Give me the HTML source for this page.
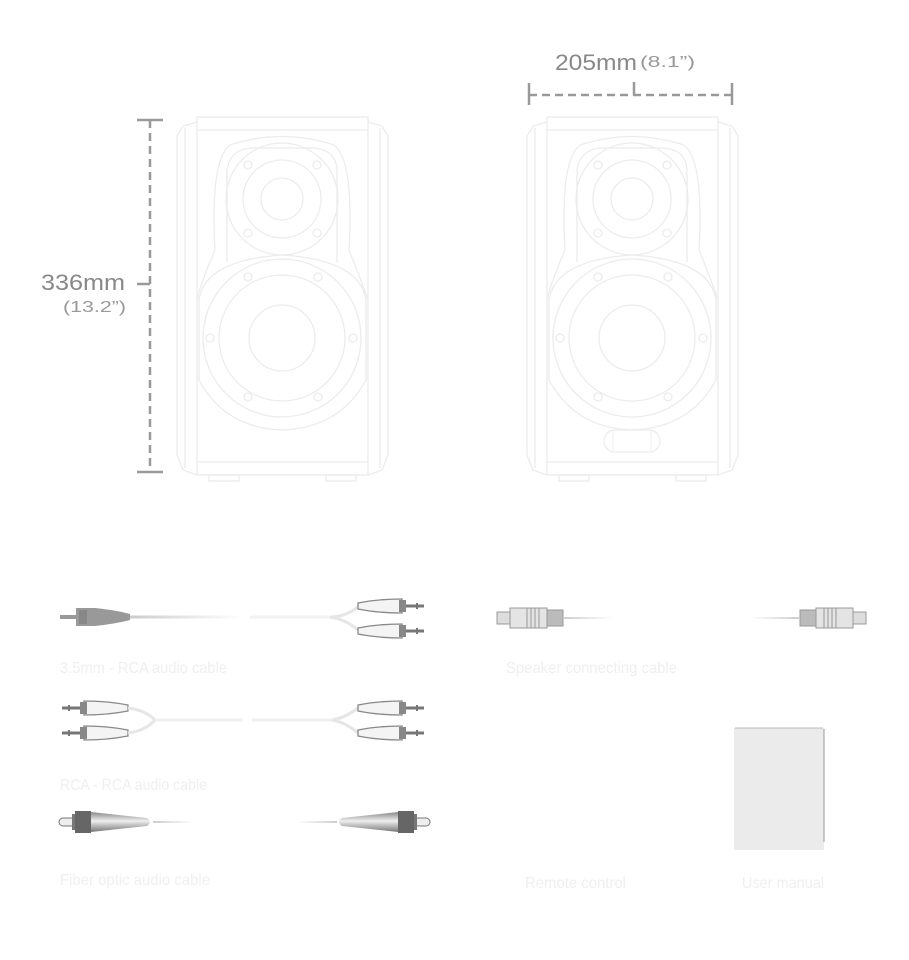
<!DOCTYPE html>
<html><head><meta charset="utf-8"><style>
html,body{margin:0;padding:0;background:#fff;width:909px;height:960px;overflow:hidden}
svg{display:block}
</style></head><body>
<svg width="909" height="960" viewBox="0 0 909 960" xmlns="http://www.w3.org/2000/svg" font-family="Liberation Sans, sans-serif">
<defs>
<g id="spk" fill="none" stroke="#ececec" stroke-width="1.3">
  <rect x="197" y="117" width="171" height="358"/>
  <line x1="197" y1="130" x2="368" y2="130"/>
  <line x1="197" y1="462" x2="368" y2="462"/>
  <path d="M197 122 L183 126 L177 136 L177 455 L183 470 L197 475"/>
  <path d="M368 122 L382 126 L388 136 L388 455 L382 470 L368 475"/>
  <path d="M185 128 L185 468 M380 128 L380 468"/>
  <path d="M215 250 Q210 160 230 145 Q282 128 334 145 Q354 160 349 250 Q365 290 368 300"/>
  <path d="M215 250 Q200 285 197 300"/>
  <path d="M227 262 L227 170 Q230 150 250 148 L314 148 Q336 150 337 170 L337 262"/>
  <circle cx="282" cy="199" r="56"/><circle cx="282" cy="199" r="39"/><circle cx="282" cy="199" r="21"/>
  <circle cx="248" cy="165" r="4"/><circle cx="317" cy="165" r="4"/><circle cx="248" cy="233" r="4"/><circle cx="317" cy="233" r="4"/>
  <path d="M199 300 Q205 260 282 255 Q360 260 366 300 L366 380 Q340 428 282 430 Q225 428 199 380 Z"/>
  <circle cx="282" cy="338" r="79"/><circle cx="282" cy="338" r="63"/><circle cx="282" cy="338" r="33"/>
  <circle cx="248" cy="277" r="4"/><circle cx="318" cy="277" r="4"/><circle cx="210" cy="338" r="4"/><circle cx="353" cy="338" r="4"/><circle cx="248" cy="397" r="4"/><circle cx="318" cy="397" r="4"/>
  <rect x="209" y="475" width="30" height="6"/><rect x="326" y="475" width="30" height="6"/>
</g>
<g id="rca">
  <path d="M0 -3 Q20 -7 44 -7 L44 7 Q20 7 0 3 Z" fill="#f4f4f4" stroke="#888" stroke-width="1.3"/>
  <rect x="41" y="-6" width="7" height="12" fill="#888"/>
  <rect x="48" y="-1.5" width="18" height="3" fill="#777"/>
  <rect x="58" y="-3" width="2" height="6" fill="#777"/>
</g>
<g id="spc">
  <rect x="0" y="-6" width="13" height="12" fill="#ddd" stroke="#999"/>
  <rect x="13" y="-10" width="37" height="20" fill="#e4e4e4" stroke="#999"/>
  <path d="M30 -10 V10 M34 -10 V10 M38 -10 V10 M42 -10 V10" stroke="#999"/>
  <rect x="50" y="-8" width="16" height="16" fill="#bbb" stroke="#999"/>
</g>
<linearGradient id="bodyG" x1="0" y1="0" x2="0" y2="1"><stop offset="0" stop-color="#888"/><stop offset="0.45" stop-color="#eee"/><stop offset="1" stop-color="#777"/></linearGradient>
<g id="fib">
  <rect x="0" y="-4" width="16" height="8" rx="4" fill="#eee" stroke="#777"/>
  <rect x="13" y="-8" width="18" height="16" fill="#777"/>
  <rect x="16" y="-11" width="16" height="22" fill="#666"/>
  <path d="M32 -10 L88 -4 Q94 0 88 4 L32 10 Z" fill="url(#bodyG)"/>
</g>
<linearGradient id="fadeR" x1="0" x2="1"><stop offset="0" stop-color="#ccc"/><stop offset="1" stop-color="#fff"/></linearGradient>
<linearGradient id="fadeL" x1="1" x2="0"><stop offset="0" stop-color="#ccc"/><stop offset="1" stop-color="#fff"/></linearGradient>
</defs>

<use href="#spk"/>
<use href="#spk" x="350"/>
<rect x="604" y="430" width="56" height="22" rx="11" fill="none" stroke="#ececec" stroke-width="1.3"/>
<line x1="613" y1="431" x2="613" y2="451" stroke="#ececec"/><line x1="651" y1="431" x2="651" y2="451" stroke="#ececec"/>

<g stroke="#999" stroke-width="2.5" fill="none">
  <line x1="150" y1="120" x2="150" y2="472" stroke-dasharray="8 5"/>
  <line x1="137" y1="120" x2="163" y2="120"/>
  <line x1="137" y1="472" x2="163" y2="472"/>
  <line x1="137" y1="284" x2="150" y2="284"/>
  <line x1="529" y1="95" x2="732" y2="95" stroke-dasharray="8 5"/>
  <line x1="529" y1="83" x2="529" y2="105"/>
  <line x1="732" y1="83" x2="732" y2="105"/>
  <line x1="634" y1="82" x2="634" y2="95"/>
</g>
<text x="41" y="290" font-size="22" fill="#888" textLength="84" lengthAdjust="spacingAndGlyphs">336mm</text>
<text x="63" y="312" font-size="16" fill="#999" textLength="63" lengthAdjust="spacingAndGlyphs">(13.2”)</text>
<text x="555" y="70" font-size="22" fill="#888" textLength="82" lengthAdjust="spacingAndGlyphs">205mm</text>
<text x="640" y="67" font-size="16" fill="#999" textLength="55" lengthAdjust="spacingAndGlyphs">(8.1”)</text>

<rect x="60" y="615" width="16" height="4" fill="#999"/>
<path d="M76 608 L95 608 Q115 610 130 614 L130 620 Q115 624 95 626 L76 626 Z" fill="#999"/>
<rect x="79" y="610" width="8" height="14" fill="#888"/>
<rect x="130" y="615.5" width="112" height="3" fill="url(#fadeR)"/>
<rect x="250" y="615.5" width="80" height="3" fill="#f2f2f2"/>
<path d="M330 617 Q345 617 358 607 M330 617 Q345 619 358 630" stroke="#e6e6e6" stroke-width="3" fill="none"/>
<use href="#rca" x="358" y="606"/>
<use href="#rca" x="358" y="631"/>
<text x="60" y="673" font-size="16" fill="#efefef" textLength="167" lengthAdjust="spacingAndGlyphs">3.5mm - RCA audio cable</text>

<use href="#rca" transform="translate(128 708) scale(-1 1)"/>
<use href="#rca" transform="translate(128 733) scale(-1 1)"/>
<path d="M128 708 Q145 710 155 720 M128 733 Q145 731 155 720" stroke="#e6e6e6" stroke-width="3" fill="none"/>
<rect x="155" y="718.5" width="88" height="3" fill="#f0f0f0"/>
<rect x="252" y="718.5" width="80" height="3" fill="#f0f0f0"/>
<path d="M332 720 Q345 718 358 708 M332 720 Q345 722 358 733" stroke="#e6e6e6" stroke-width="3" fill="none"/>
<use href="#rca" x="358" y="708"/>
<use href="#rca" x="358" y="733"/>
<text x="60" y="790" font-size="16" fill="#efefef" textLength="147" lengthAdjust="spacingAndGlyphs">RCA - RCA audio cable</text>

<use href="#fib" x="59" y="822"/>
<rect x="153" y="821" width="40" height="2" fill="url(#fadeR)"/>
<use href="#fib" transform="translate(430 822) scale(-1 1)"/>
<rect x="297" y="821" width="40" height="2" fill="url(#fadeL)"/>
<text x="60" y="885" font-size="16" fill="#efefef" textLength="150" lengthAdjust="spacingAndGlyphs">Fiber optic audio cable</text>

<use href="#spc" x="497" y="618"/>
<rect x="563" y="617" width="50" height="2" fill="url(#fadeR)"/>
<use href="#spc" transform="translate(866 618) scale(-1 1)"/>
<rect x="750" y="617" width="50" height="2" fill="url(#fadeL)"/>
<text x="506" y="673" font-size="16" fill="#efefef" textLength="171" lengthAdjust="spacingAndGlyphs">Speaker connecting cable</text>

<rect x="734" y="728" width="90" height="122" fill="#ebebeb"/>
<line x1="824" y1="729" x2="824" y2="842" stroke="#999" stroke-width="1"/>
<line x1="735" y1="728" x2="823" y2="728" stroke="#aaa" stroke-width="0.8"/>
<text x="525" y="888" font-size="16" fill="#efefef" textLength="101" lengthAdjust="spacingAndGlyphs">Remote control</text>
<text x="742" y="888" font-size="16" fill="#efefef" textLength="82" lengthAdjust="spacingAndGlyphs">User manual</text>
</svg>
</body></html>
